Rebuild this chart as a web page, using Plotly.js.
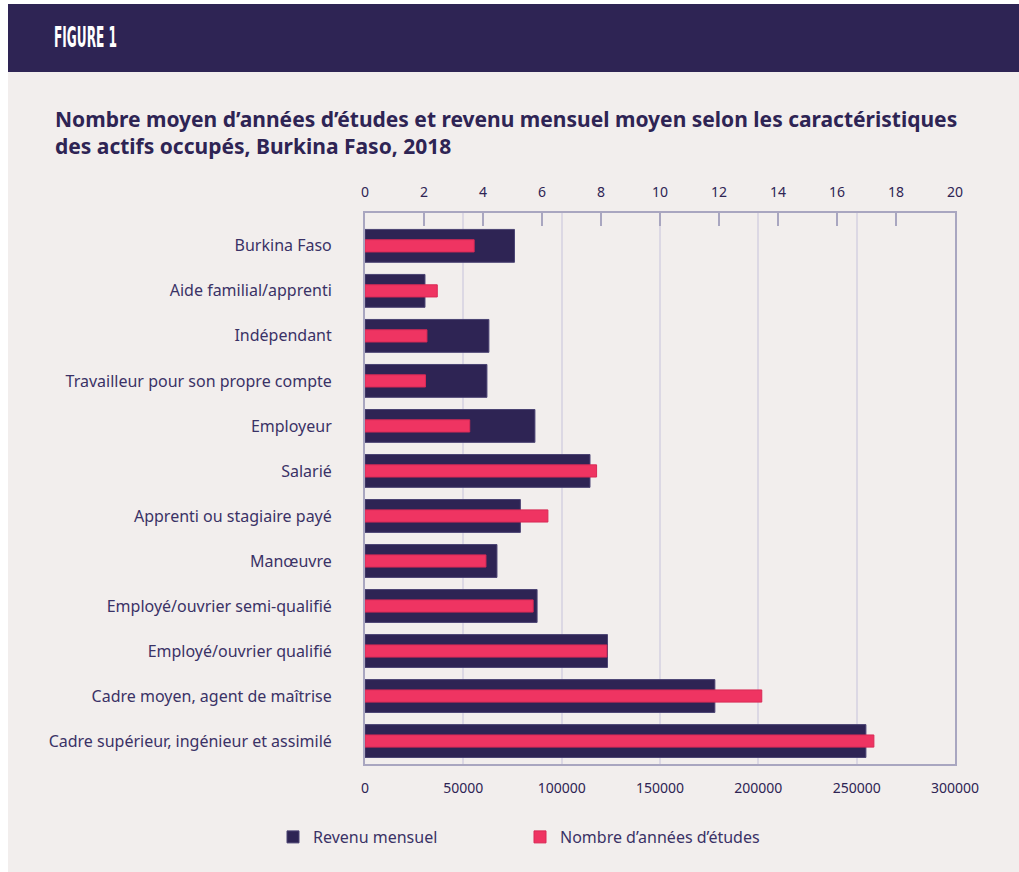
<!DOCTYPE html>
<html>
<head>
<meta charset="utf-8">
<script src="https://cdn.plot.ly/plotly-3.0.1.min.js"></script>
<style>
  html, body { margin: 0; padding: 0; background: #ffffff; }
  #chart { width: 1019px; height: 872px; }
</style>
</head>
<body>
<div id="chart"></div>
<script>
// ---- Data ----
const categories = [
  "Burkina Faso",
  "Aide familial/apprenti",
  "Indépendant",
  "Travailleur pour son propre compte",
  "Employeur",
  "Salarié",
  "Apprenti ou stagiaire payé",
  "Manœuvre",
  "Employé/ouvrier semi-qualifié",
  "Employé/ouvrier qualifié",
  "Cadre moyen, agent de maîtrise",
  "Cadre supérieur, ingénieur et assimilé"
];
const revenuMensuel = [76000, 30500, 63000, 62000, 86400, 114400, 79000, 67100, 87500, 123300, 177900, 254700];
const anneesEtudes = [3.7, 2.45, 2.1, 2.05, 3.55, 7.85, 6.2, 4.1, 5.7, 8.2, 13.45, 17.25];
const seriesNames = ["Revenu mensuel", "Nombre d\u2019années d\u2019études"];
const revenuTicks = [0, 50000, 100000, 150000, 200000, 250000, 300000];
const anneesTicks = [0, 2, 4, 6, 8, 10, 12, 14, 16, 18, 20];

// ---- Styling ----
const DARK = "#2e2454";
const PINK = "#ef3462";
const BG = "#f2eeed";
const AXIS = "#a9a6c0";
const GRID = "#dcd8e4";
const TEXT = "#3a3266";
const FONT = "Noto Sans, Open Sans, sans-serif";

const traces = [
  {
    type: "bar", orientation: "h", name: seriesNames[0],
    y: categories, x: revenuMensuel, xaxis: "x", yaxis: "y",
    width: 0.73,
    marker: { color: DARK, line: { color: "#4b4373", width: 1 } },
    hoverinfo: "x+y"
  },
  {
    type: "bar", orientation: "h", name: seriesNames[1],
    y: categories, x: anneesEtudes, xaxis: "x2", yaxis: "y",
    width: 0.27,
    marker: { color: PINK, line: { color: "#d92a56", width: 1 } },
    hoverinfo: "x+y"
  }
];

// pixel -> paper helpers for decorative shapes
const L = 365, R = 955, T = 213, B = 764;
const px = v => (v - L) / (R - L);
const py = v => (B - v) / (B - T);

const layout = {
  width: 1019, height: 872,
  margin: { l: L, r: 1019 - R, t: T, b: 872 - B, pad: 0 },
  paper_bgcolor: "#ffffff",
  plot_bgcolor: "rgba(0,0,0,0)",
  font: { family: FONT, color: TEXT, size: 14 },
  barmode: "overlay",
  showlegend: true,
  title: {
    text: "Nombre moyen d\u2019années d\u2019études et revenu mensuel moyen selon les caractéristiques<br>des actifs occupés, Burkina Faso, 2018",
    font: { family: FONT, size: 21, color: DARK, weight: 700 },
    x: 55 / 1019, xref: "container", xanchor: "left",
    y: 1 - 127 / 872, yref: "container", yanchor: "top"
  },
  xaxis: {
    range: [0, 300000], tickvals: revenuTicks, ticktext: revenuTicks.map(String),
    showgrid: true, gridcolor: GRID, gridwidth: 1.5,
    zeroline: false, ticks: "", showline: true, linecolor: AXIS, linewidth: 2,
    tickfont: { size: 14, color: DARK, family: FONT },
    ticklabelstandoff: 10, side: "bottom", fixedrange: true
  },
  xaxis2: {
    overlaying: "x", side: "top", range: [0, 20],
    tickvals: anneesTicks, ticktext: anneesTicks.map(String),
    showgrid: false, zeroline: false,
    ticks: "inside", ticklen: 13, tickwidth: 2, tickcolor: AXIS,
    showline: true, linecolor: AXIS, linewidth: 2,
    tickfont: { size: 14, color: DARK, family: FONT },
    ticklabelstandoff: 8, fixedrange: true
  },
  yaxis: {
    type: "category", categoryorder: "array", categoryarray: categories,
    range: [11.51, -0.73],
    showgrid: false, zeroline: false, ticks: "",
    showline: true, linecolor: AXIS, linewidth: 2, mirror: true,
    tickfont: { size: 16, color: TEXT, family: FONT },
    ticklabelstandoff: 28, fixedrange: true
  },
  legend: {
    orientation: "h", x: px(273), xanchor: "left", y: py(837), yanchor: "middle",
    font: { size: 16, color: TEXT, family: FONT },
    bgcolor: "rgba(0,0,0,0)", entrywidth: 202, entrywidthmode: "pixels",
    traceorder: "normal", itemclick: false, itemdoubleclick: false
  },
  shapes: [
    { type: "rect", xref: "paper", yref: "paper", layer: "below",
      x0: px(8), x1: px(1019), y0: py(872), y1: py(72),
      fillcolor: BG, line: { width: 0 } },
    { type: "rect", xref: "paper", yref: "paper", layer: "below",
      x0: px(8), x1: px(1019), y0: py(72), y1: py(4),
      fillcolor: DARK, line: { width: 0 } }
  ],
  annotations: [
    { text: "FIGURE 1", xref: "paper", yref: "paper",
      x: px(52), y: py(37), xanchor: "left", yanchor: "middle", showarrow: false,
      font: { family: "Liberation Sans Narrow, DejaVu Sans Condensed, sans-serif", size: 29, color: "#ffffff", weight: 700 } }
  ]
};

Plotly.newPlot("chart", traces, layout, { displayModeBar: false, staticPlot: false }).then(gd => {
  // condense the "FIGURE 1" label to mimic the narrow display face
  gd.querySelectorAll(".annotation-text").forEach(t => {
    if (t.textContent.trim() === "FIGURE 1") {
      const bb = t.getBBox();
      const s = 63 / bb.width;
      t.setAttribute("transform", `translate(${bb.x},0) scale(${s},1) translate(${-bb.x},0)`);
    }
  });
});
</script>
</body>
</html>
